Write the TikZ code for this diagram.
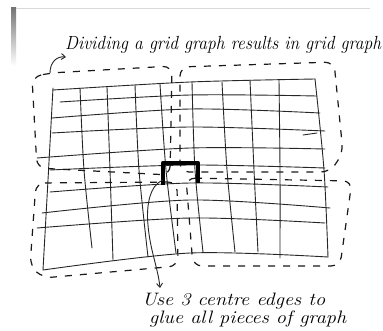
\documentclass[tikz,border=0pt]{standalone}
\usepackage{graphicx}
\usetikzlibrary{arrows.meta}
\newcommand\handtext[2]{\resizebox{#1}{\height}{#2}}
\tikzset{
  gridline/.style={line width=0.9pt, black!85, line cap=round},
  piece/.style={line width=1.2pt, black!90, dash pattern=on 7pt off 8pt, rounded corners=9pt},
  gluepath/.style={line width=4.6pt, black, line join=round},
  pen/.style={line width=0.9pt, black!85, -{Straight Barb[length=4pt,width=6pt]}},
  hand/.style={inner sep=0pt, font=\itshape},
}
\begin{document}
\begin{tikzpicture}[x=1pt,y=-1pt]
\useasboundingbox (0,0) rectangle (383,330);
\fill[white] (0,0) rectangle (383,330);
% photo edge
\shade[top color=black!55, bottom color=white] (11,7) rectangle (16,66);
\draw[black!15, line width=0.8pt] (16,8) -- (370,8);

% horizontal grid lines
\draw[gridline] plot[smooth] coordinates {(53,90) (190,82) (315,79)};
\draw[gridline] plot[smooth] coordinates {(60,102) (190,95) (317,96)};
\draw[gridline] plot[smooth] coordinates {(52,118) (190,109) (320,113)};
\draw[gridline] plot[smooth] coordinates {(52,133) (190,127) (325,131)};
\draw[gridline] plot[smooth] coordinates {(37,158) (190,148) (325,149)};
\draw[gridline] plot[smooth] coordinates {(50,170) (190,165) (325,168)};
\draw[gridline] plot[smooth] coordinates {(50,192) (190,183) (328,187)};
\draw[gridline] plot[smooth] coordinates {(42,213) (190,200) (330,208)};
\draw[gridline] plot[smooth] coordinates {(37,228) (190,218) (325,223)};
\draw[gridline] plot[smooth] coordinates {(43,270) (190,253) (328,257)};
\draw[gridline] (303,135) -- (317,133);
% vertical grid lines
\draw[gridline] plot[smooth] coordinates {(53,88) (48,180) (43,270)};
\draw[gridline] plot[smooth] coordinates {(80,88) (84,170) (92,248)};
\draw[gridline] plot[smooth] coordinates {(107,87) (110,170) (113,260)};
\draw[gridline] plot[smooth] coordinates {(135,85) (139,170) (148,257)};
\draw[gridline] plot[smooth] coordinates {(160,84) (166,170) (176,253)};
\draw[gridline] plot[smooth] coordinates {(192,82) (195,170) (203,252)};
\draw[gridline] plot[smooth] coordinates {(222,82) (227,170) (235,252)};
\draw[gridline] plot[smooth] coordinates {(250,80) (254,170) (258,252)};
\draw[gridline] plot[smooth] coordinates {(279,80) (280,170) (280,258)};
\draw[gridline] plot[smooth] coordinates {(315,79) (324,170) (328,257)};

% dashed pieces
\draw[piece] (50,73) -- (32,77) -- (37,168) -- (170,175) -- (172,66) -- cycle;
\draw[piece] (180,67) -- (334,62) -- (343,153) -- (330,172) -- (180,172) -- cycle;
\draw[piece] (36,183) -- (177,182) -- (178,266) -- (43,278) -- (30,266) -- cycle;
\draw[piece] (186,178) -- (352,181) -- (340,266) -- (193,266) -- cycle;

% glue edges
\draw[gluepath] (163,185) -- (163,163) -- (198,163) -- (198,183);
\coordinate (gluefoot) at (163,180);
\coordinate (tlcorner) at (50,73);

% labels
\node[hand, anchor=base west] (title) at (65,49)
  {\handtext{316pt}{\fontsize{19}{22}\selectfont Dividing a grid graph results in grid graph}};
\node[hand, anchor=base west] (usea) at (142,305)
  {\handtext{183pt}{\fontsize{18}{21}\selectfont Use 3 centre edges to}};
\node[hand, anchor=base west] (useb) at (149,323)
  {\handtext{197pt}{\fontsize{18}{21}\selectfont glue all pieces of graph}};

% arrows
\draw[pen] (tlcorner) .. controls (50,63) and (56,56) .. ([shift={(1,8)}]title.base west);
\draw[pen] (gluefoot) .. controls (150,185) and (146,205) .. (148,225)
  .. controls (150,250) and (158,268) .. ([shift={(18,-17)}]usea.base west);
\end{tikzpicture}
\end{document}
